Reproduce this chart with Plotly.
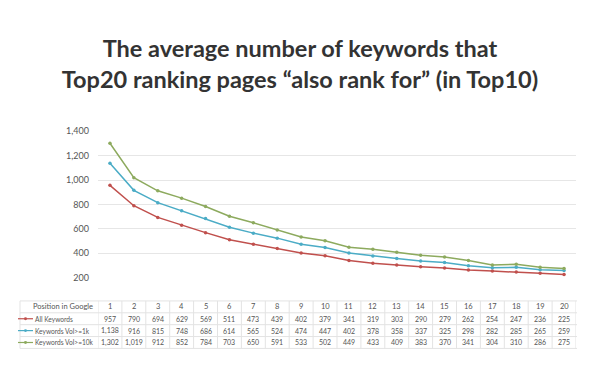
import plotly.graph_objects as go

positions = list(range(1, 21))
series_names = ["All Keywords", "Keywords Vol>=1k", "Keywords Vol>=10k"]
all_kw = [957, 790, 694, 629, 569, 511, 473, 439, 402, 379, 341, 319, 303, 290, 279, 262, 254, 247, 236, 225]
vol_1k = [1138, 916, 815, 748, 686, 614, 565, 524, 474, 447, 402, 378, 358, 337, 325, 298, 282, 285, 265, 259]
vol_10k = [1302, 1019, 912, 852, 784, 703, 650, 591, 533, 502, 449, 433, 409, 383, 370, 341, 304, 310, 286, 275]
colors = ["#C0504D", "#4BACC6", "#8DAA5E"]
y_ticks = [200, 400, 600, 800, 1000, 1200, 1400]
header_label = "Position in Google"

# page body has an 8px margin; size the figure so it fits the 600x375 window
OFF = 8
W, H = 600 - 2 * OFF, 375 - 2 * OFF
series = [all_kw, vol_1k, vol_10k]


def fx(sx):  # screen x -> paper x
    return (sx - OFF) / W


def fy(sy):  # screen y -> paper y
    return 1 - (sy - OFF) / H


fig = go.Figure()
for name, vals, col in zip(series_names, series, colors):
    fig.add_trace(go.Scatter(
        x=positions, y=vals, name=name, mode="lines+markers",
        line=dict(color=col, width=1.5),
        marker=dict(color=col, size=3.5),
        showlegend=False,
    ))

# ---- data table below the plot (columns aligned with the x axis) ----
tbl_left, tbl_top, row_h = 20, 304, 12.25
rows_y = [tbl_top + row_h * (i + 0.5) for i in range(4)]
hfont = dict(family="Lato, sans-serif", size=7.5, color="#555555")
nfont = dict(family="Lato, sans-serif", size=7, color="#555555")
lfont = dict(family="Lato, sans-serif", size=6.6, color="#555555")
grid = dict(color="#e3e3e3", width=1)
annotations = []
shapes = []

# horizontal rules
for i in range(5):
    yy = fy(tbl_top + row_h * i)
    shapes.append(dict(type="line", xref="paper", yref="paper",
                       x0=fx(tbl_left), x1=fx(577), y0=yy, y1=yy, line=grid))
# vertical rules
shapes.append(dict(type="line", xref="paper", yref="paper", x0=fx(tbl_left), x1=fx(tbl_left),
                   y0=fy(tbl_top), y1=fy(tbl_top + 4 * row_h), line=grid))
for p in [0] + positions:
    shapes.append(dict(type="line", xref="x", yref="paper", x0=p + 0.5, x1=p + 0.5,
                       y0=fy(tbl_top), y1=fy(tbl_top + 4 * row_h), line=grid))

# header row
annotations.append(dict(text=header_label, xref="paper", yref="paper", x=fx(63), y=fy(rows_y[0]),
                        xanchor="center", yanchor="middle", showarrow=False, font=hfont))
for p in positions:
    annotations.append(dict(text=str(p), xref="x", yref="paper", x=p, y=fy(rows_y[0]),
                            xanchor="center", yanchor="middle", showarrow=False, font=hfont))

# series rows
for i, (name, vals, col) in enumerate(zip(series_names, series, colors)):
    cy = rows_y[i + 1]
    annotations.append(dict(text=name, xref="paper", yref="paper", x=fx(33), y=fy(cy),
                            xanchor="left", yanchor="middle", showarrow=False, font=lfont))
    shapes.append(dict(type="line", xref="paper", yref="paper",
                       x0=fx(18), x1=fx(33), y0=fy(cy), y1=fy(cy),
                       line=dict(color=col, width=1.2)))
    shapes.append(dict(type="circle", xref="paper", yref="paper",
                       x0=fx(24), x1=fx(27), y0=fy(cy + 1.5), y1=fy(cy - 1.5),
                       fillcolor=col, line=dict(color=col, width=0)))
    for p, v in zip(positions, vals):
        annotations.append(dict(text=f"{v:,}", xref="x", yref="paper", x=p, y=fy(cy),
                                xanchor="center", yanchor="middle", showarrow=False, font=nfont))

plot_top, plot_bot = 129, 280
fig.update_layout(
    width=W, height=H,
    margin=dict(l=0, r=0, t=0, b=0),
    paper_bgcolor="white", plot_bgcolor="white",
    title=dict(
        text="The average number of keywords that<br>Top20 ranking pages “also rank for” (in Top10)",
        x=fx(300), xanchor="center", y=fy(57), yanchor="top",
        font=dict(family="Lato, sans-serif", size=23.5, color="#333333", weight="bold"),
    ),
    xaxis=dict(
        domain=[fx(98), fx(576)], range=[0.5, 20.5],
        showticklabels=False, showgrid=False, zeroline=False, showline=False, ticks="",
    ),
    yaxis=dict(
        domain=[fy(plot_bot), fy(plot_top)], range=[200, 1400],
        tickvals=y_ticks, ticktext=[f"{v:,}" for v in y_ticks],
        tickfont=dict(family="Lato, sans-serif", size=9, color="#555555"),
        showgrid=True, gridcolor="#e6e6e6", gridwidth=1, zeroline=False, showline=False,
        ticks="", ticklabelstandoff=8,
    ),
    annotations=annotations,
    shapes=shapes,
)

fig.write_html("out.html")
